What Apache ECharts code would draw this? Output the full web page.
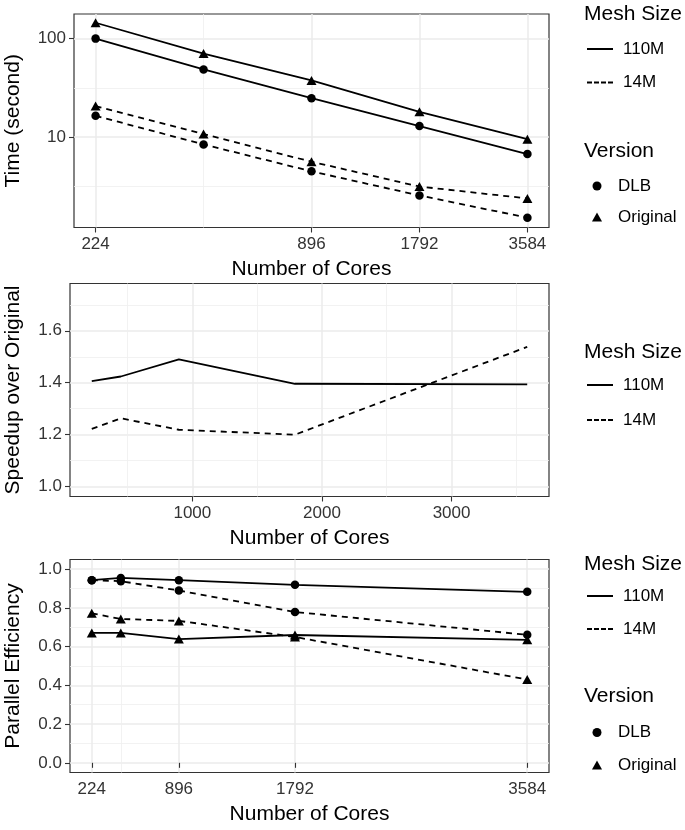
<!DOCTYPE html>
<html>
<head>
<meta charset="utf-8">
<script src="https://cdn.jsdelivr.net/npm/echarts@6/dist/echarts.min.js"></script>
<style>
html,body{margin:0;padding:0;background:#fff;}
#main{width:685px;height:830px;}
</style>
</head>
<body>
<div id="main"></div>
<script>
var cores = [224, 448, 896, 1792, 3584];

// panel 1: time (second), log scale
var time110Dlb = [100, 48.6, 24.8, 12.9, 6.7];
var time110Orig = [145, 70.5, 37.6, 18.0, 9.5];
var time14Dlb = [16.4, 8.4, 4.47, 2.54, 1.51];
var time14Orig = [20.6, 10.7, 5.6, 3.13, 2.37];

// panel 2: speedup over original
var speed110 = [1.406, 1.424, 1.49, 1.396, 1.394];
var speed14 = [1.222, 1.263, 1.219, 1.20, 1.538];

// panel 3: parallel efficiency
var eff110Dlb = [0.943, 0.955, 0.943, 0.919, 0.883];
var eff110Orig = [0.671, 0.671, 0.639, 0.66, 0.635];
var eff14Dlb = [0.943, 0.938, 0.89, 0.779, 0.661];
var eff14Orig = [0.772, 0.743, 0.733, 0.65, 0.43];

// ticks
var coreTicks = [224, 896, 1792, 3584];
var coreMinor = [448];
var timeTicks = [10, 100];
var timeMinor = [3.162, 31.62];
var speedXTicks = [1000, 2000, 3000];
var speedXMinor = [500, 1500, 2500, 3500];
var speedTicks = [1.0, 1.2, 1.4, 1.6];
var speedMinor = [1.1, 1.3, 1.5, 1.7];
var effTicks = [0, 0.2, 0.4, 0.6, 0.8, 1.0];
var effMinor = [0.1, 0.3, 0.5, 0.7, 0.9];

var FONT = '"Liberation Sans", Arial, sans-serif';
var solidIcon = 'path://M0,0H26V2H0Z';
var dashIcon = 'path://M0,0H5V2H0Z M7,0H12V2H7Z M14,0H19V2H14Z M21,0H26V2H21Z';
var triIcon = 'path://M0,9L5,0L10,9Z';

function pairs(ys) {
    return cores.map(function (c, i) { return [c, ys[i]]; });
}

function majorAxis(grid, type, min, max, ticks, fmt, extra) {
    var a = {
        type: type,
        gridIndex: grid,
        min: min,
        max: max,
        axisLine: {show: false},
        axisTick: {show: true, customValues: ticks, length: 5, lineStyle: {color: '#333', width: 1.1}},
        axisLabel: {show: true, customValues: ticks, formatter: fmt, color: '#333', fontSize: 17, fontFamily: FONT, margin: 8},
        splitLine: {show: true, lineStyle: {color: '#EBEBEB', width: 1.5}},
        nameLocation: 'middle',
        nameTextStyle: {fontSize: 21, fontFamily: FONT, color: '#000'}
    };
    for (var k in extra) a[k] = extra[k];
    return a;
}
function minorAxis(grid, type, min, max, ticks, extra) {
    var a = {
        type: type,
        gridIndex: grid,
        min: min,
        max: max,
        axisLine: {show: false},
        axisTick: {show: false, customValues: ticks},
        axisLabel: {show: false, customValues: ticks},
        splitLine: {show: true, lineStyle: {color: '#EFEFEF', width: 0.8}}
    };
    for (var k in extra) a[k] = extra[k];
    return a;
}
function line(name, x, y, ys, dashed, symbol) {
    return {
        name: name,
        type: 'line',
        xAxisIndex: x,
        yAxisIndex: y,
        data: pairs(ys),
        symbol: symbol || 'none',
        symbolSize: symbol === 'triangle' ? [10, 9] : 8.5,
        showSymbol: !!symbol,
        lineStyle: {color: '#000', width: 1.8, type: dashed ? [6, 5] : 'solid'},
        itemStyle: {color: '#000', borderWidth: 0},
        z: symbol === 'triangle' ? 3 : 2,
        silent: true
    };
}
function dummy(name) {
    return {name: name, type: 'line', xAxisIndex: 0, yAxisIndex: 0, data: [], itemStyle: {color: '#000'}};
}
function legend(items, left, top, gap, w, h, pad) {
    return {
        orient: 'vertical',
        left: left,
        top: top,
        padding: 0,
        itemGap: gap,
        itemWidth: w,
        itemHeight: h,
        selectedMode: false,
        data: items,
        itemStyle: {color: '#000', borderWidth: 0},
        textStyle: {fontSize: 17, lineHeight: 17, color: '#000', fontFamily: FONT, padding: [0, 0, 0, pad]}
    };
}
function titleText(text, left, cy) {
    return {type: 'text', left: left, top: cy - 11, style: {text: text, fontSize: 21, fontFamily: FONT, fill: '#000'}};
}

var fmtInt = function (v) { return String(Math.round(v)); };
var fmt1 = function (v) { return v.toFixed(1); };
var gridStyle = {show: true, borderColor: '#333', borderWidth: 1.2, backgroundColor: 'transparent', outerBoundsMode: 'none', containLabel: false};

var option = {
    animation: false,
    backgroundColor: '#fff',
    textStyle: {fontFamily: FONT},
    grid: [
        Object.assign({left: 74, top: 14, width: 475, height: 213.5}, gridStyle),
        Object.assign({left: 70, top: 283.5, width: 479, height: 213}, gridStyle),
        Object.assign({left: 70, top: 559.5, width: 479, height: 213}, gridStyle)
    ],
    xAxis: [
        majorAxis(0, 'log', 195, 4117, coreTicks, fmtInt, {logBase: 2, name: 'Number of Cores', nameGap: 31}),
        minorAxis(0, 'log', 195, 4117, coreMinor, {logBase: 2}),
        majorAxis(1, 'value', 56, 3752, speedXTicks, fmtInt, {name: 'Number of Cores', nameGap: 31}),
        minorAxis(1, 'value', 56, 3752, speedXMinor, {}),
        majorAxis(2, 'value', 56, 3752, coreTicks, fmtInt, {name: 'Number of Cores', nameGap: 31}),
        minorAxis(2, 'value', 56, 3752, coreMinor, {})
    ],
    yAxis: [
        majorAxis(0, 'log', 1.2, 178, timeTicks, fmtInt, {logBase: 10, name: 'Time (second)', nameGap: 50}),
        minorAxis(0, 'log', 1.2, 178, timeMinor, {logBase: 10}),
        majorAxis(1, 'value', 0.962, 1.782, speedTicks, fmt1, {name: 'Speedup over Original', nameGap: 46}),
        minorAxis(1, 'value', 0.962, 1.782, speedMinor, {}),
        majorAxis(2, 'value', -0.05, 1.05, effTicks, fmt1, {name: 'Parallel Efficiency', nameGap: 46}),
        minorAxis(2, 'value', -0.05, 1.05, effMinor, {})
    ],
    legend: [
        legend([{name: '110M', icon: solidIcon}, {name: '14M', icon: dashIcon}], 587, 40.5, 16.5, 26, 14, 5),
        legend([{name: 'DLB', icon: 'circle'}, {name: 'Original', icon: triIcon}], 592, 177.5, 14, 20, 9, 6),
        legend([{name: '110M', icon: solidIcon}, {name: '14M', icon: dashIcon}], 587, 376.5, 18, 26, 14, 5),
        legend([{name: '110M', icon: solidIcon}, {name: '14M', icon: dashIcon}], 587, 587.5, 16, 26, 14, 5),
        legend([{name: 'DLB', icon: 'circle'}, {name: 'Original', icon: triIcon}], 592, 724, 15.5, 20, 9, 6)
    ],
    graphic: [
        titleText('Mesh Size', 584, 15),
        titleText('Version', 584, 152),
        titleText('Mesh Size', 584, 352.5),
        titleText('Mesh Size', 584, 564.5),
        titleText('Version', 584, 697)
    ],
    series: [
        line('110M DLB', 0, 0, time110Dlb, false, 'circle'),
        line('110M Original', 0, 0, time110Orig, false, 'triangle'),
        line('14M DLB', 0, 0, time14Dlb, true, 'circle'),
        line('14M Original', 0, 0, time14Orig, true, 'triangle'),
        line('110M speedup', 2, 2, speed110, false),
        line('14M speedup', 2, 2, speed14, true),
        line('110M DLB eff', 4, 4, eff110Dlb, false, 'circle'),
        line('110M Original eff', 4, 4, eff110Orig, false, 'triangle'),
        line('14M DLB eff', 4, 4, eff14Dlb, true, 'circle'),
        line('14M Original eff', 4, 4, eff14Orig, true, 'triangle'),
        dummy('110M'), dummy('14M'), dummy('DLB'), dummy('Original')
    ]
};

var chart = echarts.init(document.getElementById('main'), null, {renderer: 'canvas'});
chart.setOption(option);
</script>
</body>
</html>
